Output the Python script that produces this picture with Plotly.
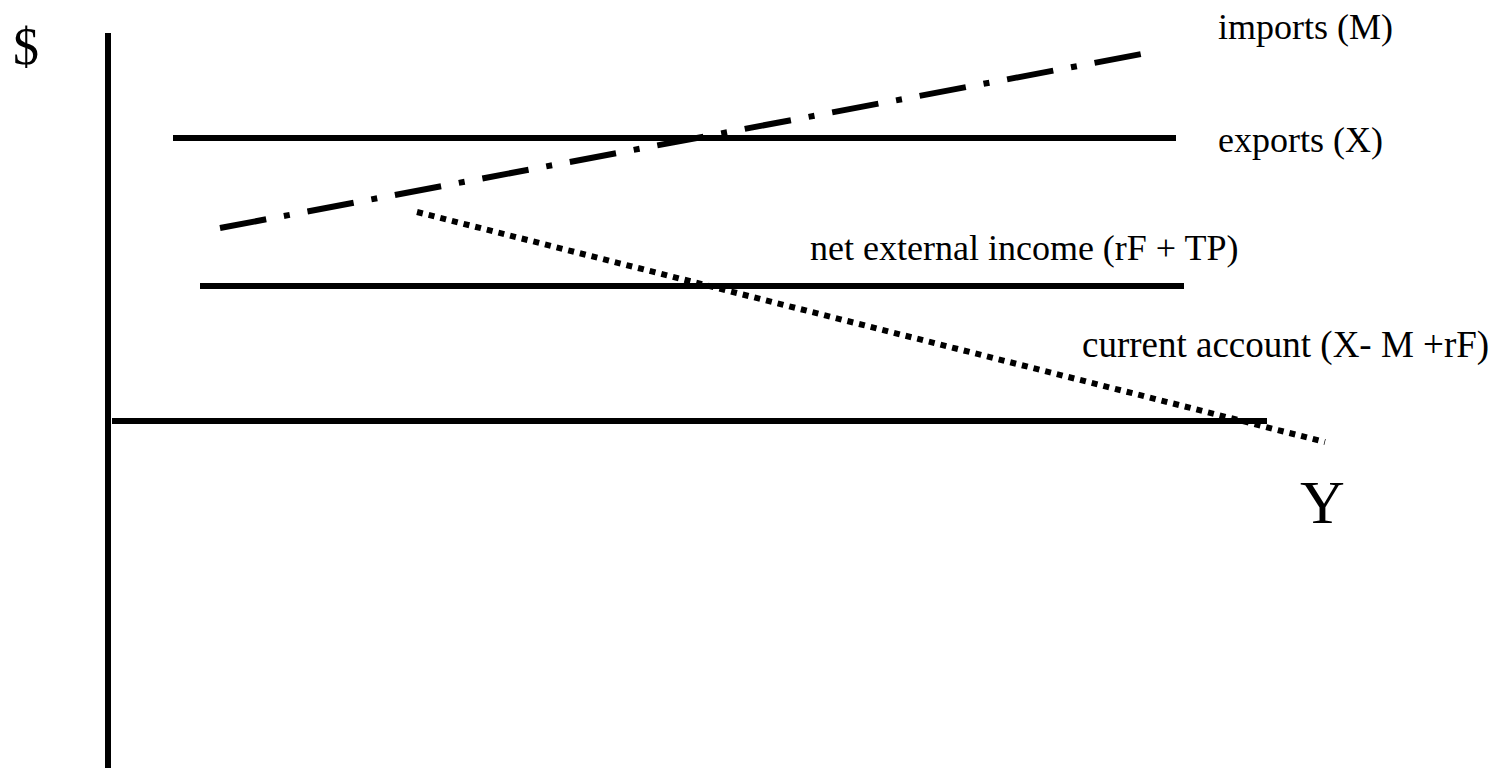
import plotly.graph_objects as go

# Diagram coordinates: x = income Y, y = $ (origin at the axes' crossing)
axis_v_x = [0, 0]
axis_v_y = [-370, 388]
axis_h_x = [4, 1159]
axis_h_y = [0, 0]

exports_x = [65, 1068]
exports_y = [283, 283]

net_income_x = [92, 1076]
net_income_y = [135, 135]

imports_x = [112, 1044]
imports_y = [193, 369]

current_x = [309, 1217]
current_y = [209, -21]

labels = ["imports (M)", "exports (X)", "net external income (rF + TP)",
          "current account (X- M +rF)"]
label_x = [1108, 1108, 700, 972]
label_y = [394, 281, 173, 76]
label_size = [36, 36, 36, 37]

FONT = "Liberation Serif"

fig = go.Figure()

def seg(x, y, dash="solid"):
    fig.add_trace(go.Scatter(x=x, y=y, mode="lines",
                             line=dict(color="black", width=6, dash=dash),
                             hoverinfo="skip", showlegend=False))

seg(axis_v_x, axis_v_y)
seg(axis_h_x, axis_h_y)
seg(exports_x, exports_y)
seg(net_income_x, net_income_y)
seg(imports_x, imports_y, "47px,18px,6px,18px")
seg(current_x, current_y, "6px,6px")

for t, x, y, s in zip(labels, label_x, label_y, label_size):
    fig.add_annotation(x=x, y=y, text=t, showarrow=False, xanchor="left",
                       yanchor="middle", font=dict(family=FONT, size=s, color="black"))

fig.add_annotation(x=-82, y=375, text="$", showarrow=False, xanchor="center",
                   yanchor="middle", font=dict(family=FONT, size=52, color="black"))
fig.add_annotation(x=1214, y=-81, text="Y", showarrow=False, xanchor="center",
                   yanchor="middle", font=dict(family=FONT, size=62, color="black"))

fig.update_layout(
    width=1500, height=768,
    margin=dict(l=0, r=0, t=0, b=0),
    paper_bgcolor="white", plot_bgcolor="white",
    xaxis=dict(range=[-100, 1400], visible=False, fixedrange=True),
    yaxis=dict(range=[-355, 413], visible=False, fixedrange=True),
)

fig.write_html("out.html")
